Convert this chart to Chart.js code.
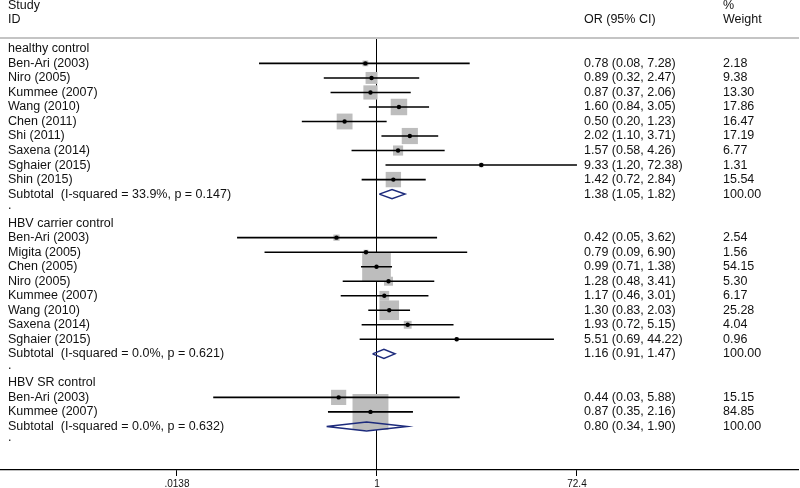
<!DOCTYPE html>
<html>
<head>
<meta charset="utf-8">
<script src="https://cdn.jsdelivr.net/npm/chart.js@4/dist/chart.umd.min.js"></script>
<style>
  html, body { margin: 0; padding: 0; background: #fff; }
  #wrap { width: 800px; height: 488px; position: relative; }
</style>
</head>
<body>
<div id="wrap"><canvas id="c" width="800" height="488"></canvas></div>
<script>
// ---------- data ----------
const groupNames = ['healthy control', 'HBV carrier control', 'HBV SR control'];
const studyNames = ['Ben-Ari (2003)', 'Niro (2005)', 'Kummee (2007)', 'Wang (2010)', 'Chen (2011)', 'Shi (2011)', 'Saxena (2014)', 'Sghaier (2015)', 'Shin (2015)',
  'Ben-Ari (2003)', 'Migita (2005)', 'Chen (2005)', 'Niro (2005)', 'Kummee (2007)', 'Wang (2010)', 'Saxena (2014)', 'Sghaier (2015)',
  'Ben-Ari (2003)', 'Kummee (2007)'];
const studyGroup = [0, 0, 0, 0, 0, 0, 0, 0, 0, 1, 1, 1, 1, 1, 1, 1, 1, 2, 2];
const oddsRatio = [0.78, 0.89, 0.87, 1.60, 0.50, 2.02, 1.57, 9.33, 1.42, 0.42, 0.79, 0.99, 1.28, 1.17, 1.30, 1.93, 5.51, 0.44, 0.87];
const ciLow = [0.08, 0.32, 0.37, 0.84, 0.20, 1.10, 0.58, 1.20, 0.72, 0.05, 0.09, 0.71, 0.48, 0.46, 0.83, 0.72, 0.69, 0.03, 0.35];
const ciHigh = [7.28, 2.47, 2.06, 3.05, 1.23, 3.71, 4.26, 72.38, 2.84, 3.62, 6.90, 1.38, 3.41, 3.01, 2.03, 5.15, 44.22, 5.88, 2.16];
const weightPct = [2.18, 9.38, 13.30, 17.86, 16.47, 17.19, 6.77, 1.31, 15.54, 2.54, 1.56, 54.15, 5.30, 6.17, 25.28, 4.04, 0.96, 15.15, 84.85];
const subtotalHet = ['I-squared = 33.9%, p = 0.147', 'I-squared = 0.0%, p = 0.621', 'I-squared = 0.0%, p = 0.632'];
const subtotalOR = [1.38, 1.16, 0.80];
const subtotalLow = [1.05, 0.91, 0.34];
const subtotalHigh = [1.82, 1.47, 1.90];
const subtotalWeight = [100.00, 100.00, 100.00];
const tickValues = [0.0138, 1, 72.4];
const tickLabels = ['.0138', '1', '72.4'];

// ---------- build rows ----------
const rows = [];
groupNames.forEach((g, gi) => {
  rows.push({ kind: 'group', label: g });
  studyNames.forEach((s, i) => {
    if (studyGroup[i] === gi) rows.push({ kind: 'study', label: s, or: oddsRatio[i], lo: ciLow[i], hi: ciHigh[i], w: weightPct[i] });
  });
  rows.push({ kind: 'sub', label: 'Subtotal  (' + subtotalHet[gi] + ')', or: subtotalOR[gi], lo: subtotalLow[gi], hi: subtotalHigh[gi], w: subtotalWeight[gi] });
  rows.push({ kind: 'dot', label: '.' });
});

const boxPts = [], dotPts = [], ciPts = [], diaPts = [];
const DIA_H = 0.31;
rows.forEach((r, y) => {
  if (r.kind === 'study') {
    boxPts.push({ x: r.or, y: y, w: r.w });
    dotPts.push({ x: r.or, y: y });
    ciPts.push({ x: r.lo, y: y }, { x: r.hi, y: y }, { x: null, y: null });
  } else if (r.kind === 'sub') {
    diaPts.push({ x: r.lo, y: y }, { x: r.or, y: y - DIA_H }, { x: r.hi, y: y }, { x: r.or, y: y + DIA_H }, { x: r.lo, y: y }, { x: null, y: null });
  }
});

const FONT = '"Liberation Sans", Arial, Helvetica, sans-serif';

const textPlugin = {
  id: 'forestText',
  afterDraw(chart) {
    const ctx = chart.ctx;
    const ys = chart.scales.y;
    ctx.save();
    ctx.fillStyle = '#111';
    ctx.font = '12.5px ' + FONT;
    ctx.textBaseline = 'middle';
    ctx.textAlign = 'left';
    const colName = 8, colOR = 584, colW = 723;
    // header
    ctx.fillText('Study', colName, ys.getPixelForValue(-3));
    ctx.fillText('ID', colName, ys.getPixelForValue(-2));
    ctx.fillText('OR (95% CI)', colOR, ys.getPixelForValue(-2));
    ctx.fillText('%', colW, ys.getPixelForValue(-3));
    ctx.fillText('Weight', colW, ys.getPixelForValue(-2));
    rows.forEach((r, i) => {
      const py = ys.getPixelForValue(i);
      if (r.kind === 'dot') {
        ctx.fillText(r.label, colName, py - 3);
        return;
      }
      ctx.fillText(r.label, colName, py);
      if (r.kind === 'study' || r.kind === 'sub') {
        ctx.fillText(r.or.toFixed(2) + ' (' + r.lo.toFixed(2) + ', ' + r.hi.toFixed(2) + ')', colOR, py);
        ctx.fillText(r.w.toFixed(2), colW, py);
      }
    });
    ctx.restore();
  }
};

const BOX_K = 3.9;

new Chart(document.getElementById('c'), {
  type: 'scatter',
  data: {
    datasets: [
      {
        label: 'box', data: boxPts, order: 4,
        pointStyle: 'rect',
        backgroundColor: '#bdbdbd', borderWidth: 0,
        pointRadius: ctx => ctx.raw ? BOX_K * Math.sqrt(ctx.raw.w) / Math.SQRT2 : 0
      },
      {
        type: 'line', label: 'ci', data: ciPts, order: 3,
        borderColor: '#000', borderWidth: 1.6, pointRadius: 0, spanGaps: false, tension: 0, fill: false
      },
      {
        label: 'est', data: dotPts, order: 2,
        pointStyle: 'circle', pointRadius: 2.2, backgroundColor: '#000', borderWidth: 0
      },
      {
        type: 'line', label: 'diamond', data: diaPts, order: 1,
        borderColor: '#1d2b7c', borderWidth: 1.5, pointRadius: 0, spanGaps: false, tension: 0, fill: false,
        borderJoinStyle: 'miter'
      }
    ]
  },
  options: {
    responsive: false,
    animation: false,
    events: [],
    layout: { autoPadding: false, padding: { top: 38, left: 0, right: 2, bottom: 0 } },
    plugins: { legend: { display: false }, tooltip: { enabled: false } },
    scales: {
      x: {
        type: 'logarithmic',
        position: 'bottom',
        min: 3.121e-4,
        max: 8225,
        bounds: 'data',
        afterBuildTicks: s => { s.ticks = tickValues.map(v => ({ value: v })); },
        afterFit: s => { s.height = 18; },
        ticks: {
          autoSkip: false, maxRotation: 0, padding: 2,
          color: '#111',
          font: { family: FONT, size: 10 },
          callback: (v, i) => tickLabels[i]
        },
        grid: {
          display: true,
          drawOnChartArea: true,
          drawTicks: true,
          tickLength: 6,
          tickColor: '#000',
          tickWidth: 1,
          lineWidth: 1,
          color: ctx => (ctx.type === 'tick' && tickValues[ctx.index] === 1) ? '#000' : 'rgba(0,0,0,0)'
        },
        border: { display: true, color: '#000', width: 1.2 }
      },
      xTop: {
        type: 'linear',
        position: 'top',
        min: 0, max: 1,
        afterFit: s => { s.height = 0; },
        ticks: { display: false },
        grid: { display: false, drawTicks: false },
        border: { display: true, color: '#c4c4c4', width: 2 }
      },
      y: {
        type: 'linear',
        reverse: true,
        min: -0.75,
        max: 29,
        display: false
      }
    }
  },
  plugins: [textPlugin]
});
</script>
</body>
</html>
